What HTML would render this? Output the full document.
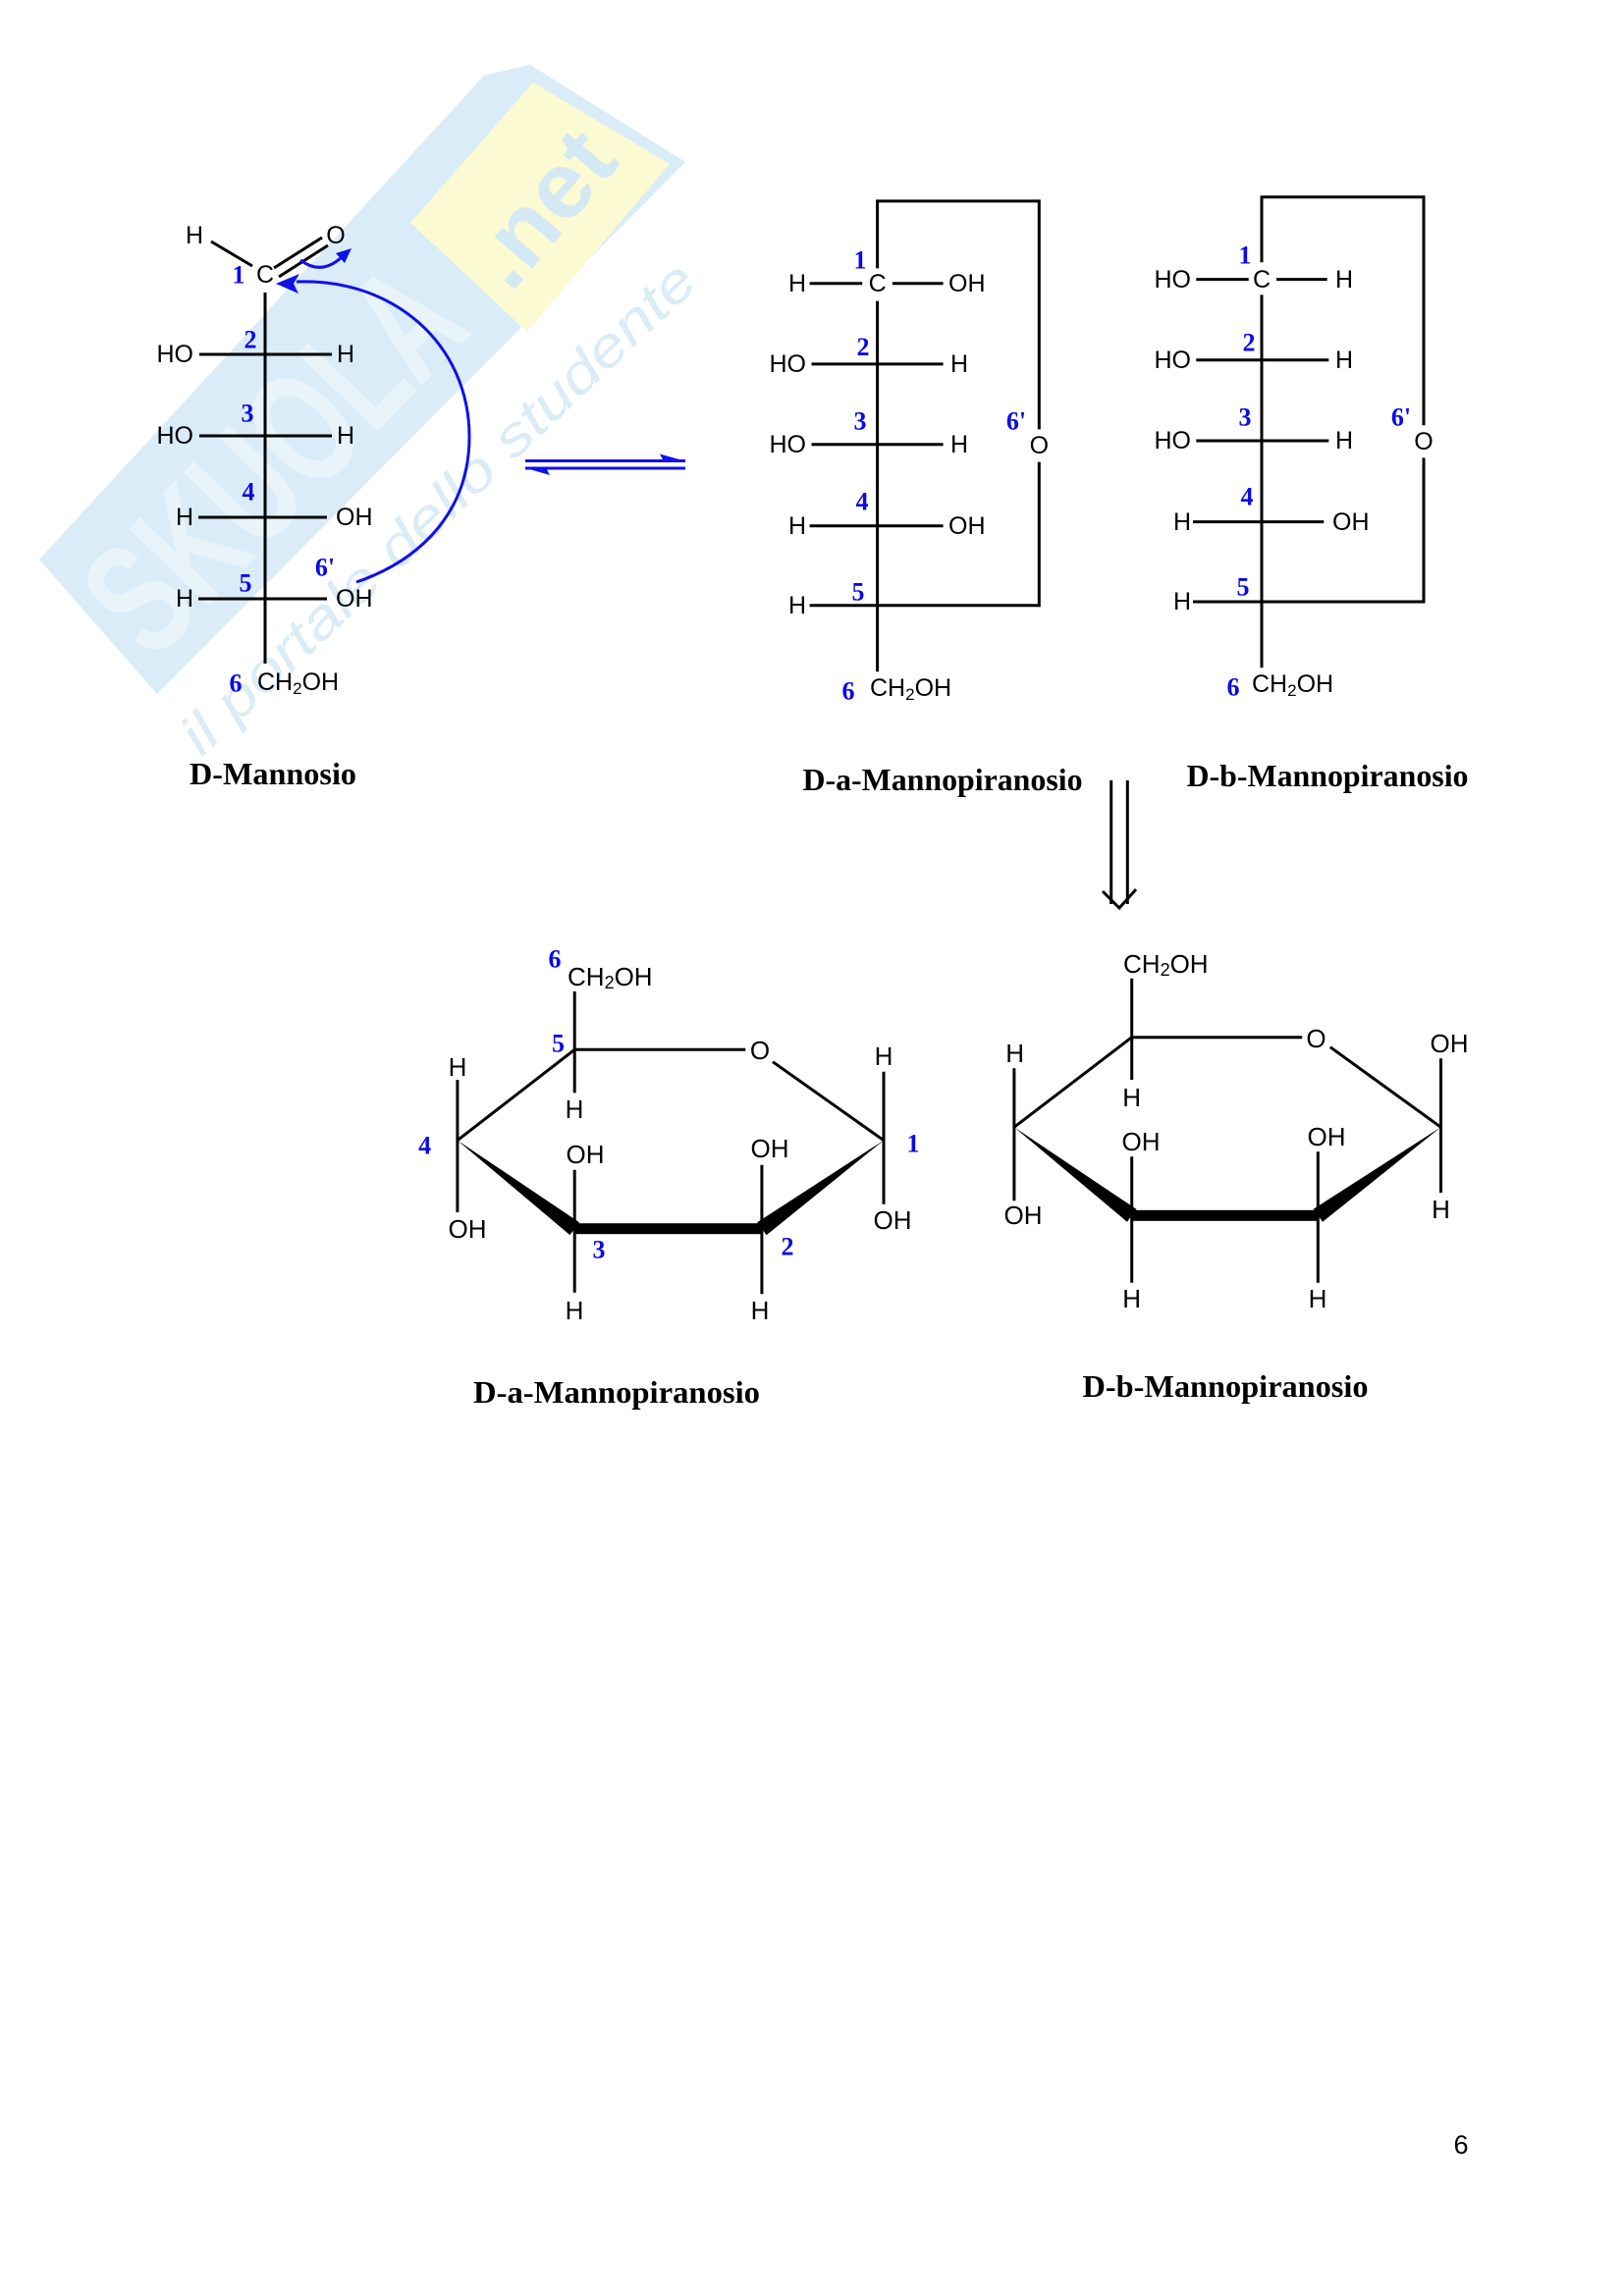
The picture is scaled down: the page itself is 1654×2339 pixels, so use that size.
<!DOCTYPE html>
<html><head><meta charset="utf-8"><style>
html,body{margin:0;padding:0;background:#fff;}
svg{display:block;}
.t{font-family:"Liberation Sans",Arial,sans-serif;font-size:25px;fill:#000;dominant-baseline:central;}
.h{font-family:"Liberation Sans",Arial,sans-serif;font-size:26px;fill:#000;dominant-baseline:central;}
.m{text-anchor:middle;}
.e{text-anchor:end;}
.n{font-family:"Liberation Serif","Times New Roman",serif;font-weight:bold;font-size:26px;fill:#0a0ae6;dominant-baseline:central;text-anchor:middle;}
.ti{font-family:"Liberation Serif","Times New Roman",serif;font-weight:bold;font-size:32px;fill:#000;dominant-baseline:central;text-anchor:middle;}
</style></head><body>
<svg width="1654" height="2339" viewBox="0 0 1654 2339" xmlns="http://www.w3.org/2000/svg">
<rect x="0" y="0" width="1654" height="2339" fill="#fff"/>

<!-- watermark -->
<g>
<polygon points="40,570 493,77 540,66 698,165 160,707" fill="#d9ecf7"/>
<polygon points="543,84 682,167 537,338 418,227" fill="#fcfad2"/>
<text transform="translate(156,676) rotate(-46)" font-family="Liberation Sans, sans-serif" font-weight="bold" font-size="165" fill="#e8f3fa" textLength="470" lengthAdjust="spacingAndGlyphs">SKUOLA</text>
<text transform="translate(520,300) rotate(-50)" font-family="Liberation Sans, sans-serif" font-weight="bold" font-size="95" fill="#d5e9f5" textLength="175" lengthAdjust="spacingAndGlyphs">.net</text>
<text transform="translate(205,772) rotate(-43.5)" font-family="Liberation Sans, sans-serif" font-style="italic" font-size="56" fill="#dbecf7" textLength="700" lengthAdjust="spacingAndGlyphs">il portale dello studente</text>
</g>

<!-- D-Mannosio Fischer -->
<g stroke="#000" stroke-width="3" fill="none">
<line x1="270" y1="298" x2="270" y2="676"/>
<line x1="203" y1="361" x2="338" y2="361"/>
<line x1="203" y1="444" x2="338" y2="444"/>
<line x1="202" y1="527" x2="333" y2="527"/>
<line x1="202" y1="610" x2="333" y2="610"/>
<line x1="215" y1="246" x2="257" y2="271"/>
<line x1="279" y1="273" x2="328" y2="242"/>
<line x1="284" y1="282" x2="334" y2="250"/>
</g>
<text class="t m" x="198" y="240">H</text>
<text class="t m" x="342" y="240">O</text>
<text class="t m" x="270" y="280">C</text>
<text class="t e" x="197" y="361">HO</text>
<text class="t m" x="352" y="361">H</text>
<text class="t e" x="197" y="444">HO</text>
<text class="t m" x="352" y="444">H</text>
<text class="t e" x="197" y="527">H</text>
<text class="t" x="342" y="527">OH</text>
<text class="t e" x="197" y="610">H</text>
<text class="t" x="342" y="610">OH</text>
<text class="t" x="262" y="695">CH<tspan font-size="17" dy="6">2</tspan><tspan dy="-6">OH</tspan></text>
<text class="n" x="243" y="280">1</text>
<text class="n" x="255" y="346">2</text>
<text class="n" x="252" y="421">3</text>
<text class="n" x="253" y="501">4</text>
<text class="n" x="250" y="594">5</text>
<text class="n" x="331" y="578">6'</text>
<text class="n" x="240" y="696">6</text>
<text class="ti" x="278" y="788" textLength="170" lengthAdjust="spacingAndGlyphs">D-Mannosio</text>

<!-- curved arrows -->
<path d="M363,593 C430,570 478,520 478,445 C478,350 400,283 302,287" stroke="#1010e8" stroke-width="3" fill="none"/>
<polygon points="281,289 305,279 299,289 304,299" fill="#1010e8"/>
<path d="M306,265 Q327,281 348,262" stroke="#1010e8" stroke-width="3" fill="none"/>
<polygon points="358,253 342,258 351,268" fill="#1010e8"/>

<!-- equilibrium arrows -->
<g stroke="#1010e8" stroke-width="3">
<line x1="535" y1="469.5" x2="698" y2="469.5"/>
<line x1="535" y1="477" x2="698" y2="477"/>
</g>
<polygon points="699,470 672,462.5 676,470" fill="#1010e8"/>
<polygon points="534,476.5 560,484 556,476.5" fill="#1010e8"/>

<!-- alpha Fischer -->
<g stroke="#000" stroke-width="3" fill="none">
<line x1="893.6" y1="204.9" x2="893.6" y2="273.4"/>
<line x1="893.6" y1="306.6" x2="893.6" y2="684.3"/>
<line x1="892" y1="204.9" x2="1058.3" y2="204.9"/>
<line x1="1058.3" y1="203.4" x2="1058.3" y2="437.4"/>
<line x1="1058.3" y1="470.6" x2="1058.3" y2="618.2"/>
<line x1="824.6" y1="288.8" x2="878.2" y2="288.8"/>
<line x1="908.9" y1="288.8" x2="960.6" y2="288.8"/>
<line x1="826.5" y1="370.9" x2="960.6" y2="370.9"/>
<line x1="826.5" y1="452.7" x2="960.6" y2="452.7"/>
<line x1="824.6" y1="535.7" x2="960.6" y2="535.7"/>
<line x1="824.6" y1="616.7" x2="1058.3" y2="616.7"/>
</g>
<text class="t m" x="812" y="289">H</text>
<text class="t m" x="893.6" y="289">C</text>
<text class="t" x="966" y="289">OH</text>
<text class="t e" x="821" y="371">HO</text>
<text class="t" x="968" y="371">H</text>
<text class="t e" x="821" y="453">HO</text>
<text class="t" x="968" y="453">H</text>
<text class="t m" x="812" y="536">H</text>
<text class="t" x="966" y="536">OH</text>
<text class="t m" x="812" y="617">H</text>
<text class="t m" x="1058.3" y="454">O</text>
<text class="t" x="886" y="701">CH<tspan font-size="17" dy="6">2</tspan><tspan dy="-6">OH</tspan></text>
<text class="n" x="876" y="265">1</text>
<text class="n" x="879" y="353.5">2</text>
<text class="n" x="876" y="429">3</text>
<text class="n" x="878" y="511">4</text>
<text class="n" x="874" y="603">5</text>
<text class="n" x="1035" y="429">6'</text>
<text class="n" x="864" y="704">6</text>
<text class="ti" x="960" y="794" textLength="285" lengthAdjust="spacingAndGlyphs">D-a-Mannopiranosio</text>

<!-- beta Fischer -->
<g stroke="#000" stroke-width="3" fill="none">
<line x1="1285" y1="200.8" x2="1285" y2="267.2"/>
<line x1="1285" y1="300.4" x2="1285" y2="680.2"/>
<line x1="1283.5" y1="200.8" x2="1450" y2="200.8"/>
<line x1="1450" y1="199.3" x2="1450" y2="433.2"/>
<line x1="1450" y1="466.4" x2="1450" y2="614.5"/>
<line x1="1218.3" y1="284.6" x2="1271.7" y2="284.6"/>
<line x1="1300" y1="284.6" x2="1351.7" y2="284.6"/>
<line x1="1218.3" y1="366.8" x2="1353.3" y2="366.8"/>
<line x1="1218.3" y1="449" x2="1353.3" y2="449"/>
<line x1="1215" y1="531.6" x2="1348.3" y2="531.6"/>
<line x1="1215" y1="613" x2="1450" y2="613"/>
</g>
<text class="t e" x="1213" y="285">HO</text>
<text class="t m" x="1285" y="285">C</text>
<text class="t" x="1360" y="285">H</text>
<text class="t e" x="1213" y="367">HO</text>
<text class="t" x="1360" y="367">H</text>
<text class="t e" x="1213" y="449">HO</text>
<text class="t" x="1360" y="449">H</text>
<text class="t m" x="1204" y="532">H</text>
<text class="t" x="1357" y="532">OH</text>
<text class="t m" x="1204" y="613">H</text>
<text class="t m" x="1450" y="450">O</text>
<text class="t" x="1275" y="697">CH<tspan font-size="17" dy="6">2</tspan><tspan dy="-6">OH</tspan></text>
<text class="n" x="1268" y="260">1</text>
<text class="n" x="1272" y="349">2</text>
<text class="n" x="1268" y="425">3</text>
<text class="n" x="1270" y="506">4</text>
<text class="n" x="1266" y="598">5</text>
<text class="n" x="1427" y="425">6'</text>
<text class="n" x="1256" y="700">6</text>
<text class="ti" x="1352" y="790" textLength="287" lengthAdjust="spacingAndGlyphs">D-b-Mannopiranosio</text>

<!-- down arrow -->
<g stroke="#000" stroke-width="3" fill="none">
<line x1="1131.7" y1="795" x2="1131.7" y2="921"/>
<line x1="1148.3" y1="795" x2="1148.3" y2="921"/>
<polyline points="1123,908 1140,925 1157,906"/>
</g>

<!-- alpha Haworth -->
<g stroke="#000" stroke-width="3" fill="none">
<line x1="585.2" y1="1069.3" x2="759.3" y2="1069.3"/>
<line x1="787" y1="1081.7" x2="900" y2="1161.7"/>
<line x1="585.2" y1="1069.3" x2="465.9" y2="1161.7"/>
<line x1="585.2" y1="1069.3" x2="585.2" y2="1010"/>
<line x1="585.2" y1="1069.3" x2="585.2" y2="1113.3"/>
<line x1="465.9" y1="1100" x2="465.9" y2="1235"/>
<line x1="585.2" y1="1191.7" x2="585.2" y2="1316.7"/>
<line x1="775.9" y1="1186.7" x2="775.9" y2="1318.3"/>
<line x1="900" y1="1091.7" x2="900" y2="1226.7"/>
</g>
<polygon points="465.9,1161.7 590,1245.3 580.4,1258.1" fill="#000"/>
<rect x="584" y="1246.2" width="193" height="11" fill="#000"/>
<polygon points="900,1161.7 771.2,1245.2 780.6,1258.2" fill="#000"/>
<text class="h" x="578" y="995">CH<tspan font-size="18" dy="6">2</tspan><tspan dy="-6">OH</tspan></text>
<text class="n" x="565" y="977">6</text>
<text class="n" x="568.5" y="1063">5</text>
<text class="h m" x="774" y="1070">O</text>
<text class="h m" x="585" y="1130">H</text>
<text class="h m" x="466" y="1087">H</text>
<text class="h m" x="476" y="1252">OH</text>
<text class="n" x="432.6" y="1167">4</text>
<text class="h m" x="596" y="1176">OH</text>
<text class="h m" x="585" y="1335">H</text>
<text class="n" x="610" y="1273">3</text>
<text class="h m" x="784" y="1170">OH</text>
<text class="h m" x="774" y="1335">H</text>
<text class="n" x="802" y="1270">2</text>
<text class="h m" x="900" y="1076">H</text>
<text class="h m" x="909" y="1243">OH</text>
<text class="n" x="930" y="1165">1</text>
<text class="ti" x="628" y="1418" textLength="292" lengthAdjust="spacingAndGlyphs">D-a-Mannopiranosio</text>

<!-- beta Haworth -->
<g stroke="#000" stroke-width="3" fill="none">
<line x1="1152.7" y1="1056.7" x2="1326.2" y2="1056.7"/>
<line x1="1354.8" y1="1066.7" x2="1467.5" y2="1148.3"/>
<line x1="1152.7" y1="1056.7" x2="1032.9" y2="1148.3"/>
<line x1="1152.7" y1="996.7" x2="1152.7" y2="1100"/>
<line x1="1032.9" y1="1088.3" x2="1032.9" y2="1223.3"/>
<line x1="1152.7" y1="1178.3" x2="1152.7" y2="1306.7"/>
<line x1="1342.3" y1="1173.3" x2="1342.3" y2="1306.7"/>
<line x1="1467.5" y1="1078.3" x2="1467.5" y2="1215"/>
</g>
<polygon points="1032.9,1148.3 1157.5,1231.9 1147.9,1244.7" fill="#000"/>
<rect x="1151.5" y="1232.8" width="192" height="11" fill="#000"/>
<polygon points="1467.5,1148.3 1337.6,1231.8 1347,1244.8" fill="#000"/>
<text class="h" x="1144" y="982">CH<tspan font-size="18" dy="6">2</tspan><tspan dy="-6">OH</tspan></text>
<text class="h m" x="1340.5" y="1058">O</text>
<text class="h m" x="1152.7" y="1118">H</text>
<text class="h m" x="1033.6" y="1073">H</text>
<text class="h m" x="1042" y="1238">OH</text>
<text class="h m" x="1162" y="1163">OH</text>
<text class="h m" x="1152.7" y="1323">H</text>
<text class="h m" x="1351" y="1158">OH</text>
<text class="h m" x="1342" y="1323">H</text>
<text class="h m" x="1476" y="1063">OH</text>
<text class="h m" x="1467.5" y="1232">H</text>
<text class="ti" x="1248" y="1412" textLength="291" lengthAdjust="spacingAndGlyphs">D-b-Mannopiranosio</text>

<!-- page number -->
<text x="1488" y="2185" font-family="Liberation Sans, sans-serif" font-size="27" fill="#000" dominant-baseline="central" text-anchor="middle">6</text>
</svg>
</body></html>
